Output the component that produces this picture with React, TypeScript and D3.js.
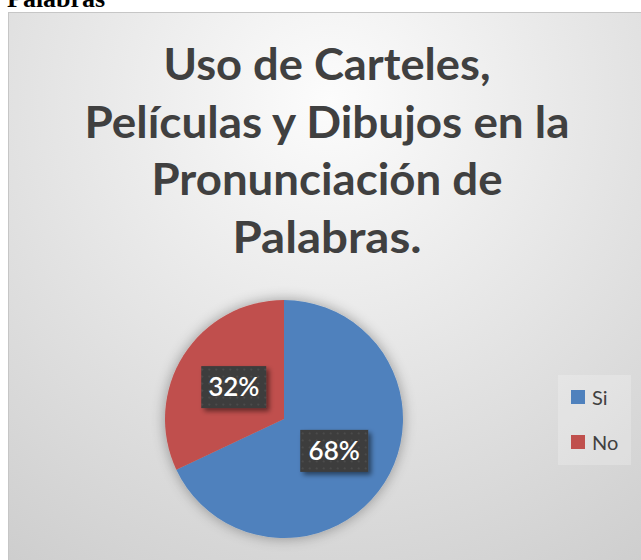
import * as d3 from 'd3';

const categories = ['Si', 'No'];
const values = [68, 32];
const colors = ['#4f81bd', '#c0504d'];
const titleLines = ['Uso de Carteles,', 'Películas y Dibujos en la', 'Pronunciación de', 'Palabras.'];
const titleWidths = [327, 485, 351, 189];

const W = 641;
const H = 560;

export default function App() {
  const cx = 284;
  const cy = 419;
  const radius = 119;

  const pie = d3
    .pie<number>()
    .sort(null)
    .value(d => d)(values);
  const arc = d3.arc<d3.PieArcDatum<number>>().innerRadius(0).outerRadius(radius);
  const total = d3.sum(values);
  const fmt = (v: number) => `${Math.round((v / total) * 100)}%`;

  return (
    <svg width={W} height={H} style={{ position: 'absolute', left: 0, top: 0 }}>
      <defs>
        <radialGradient id="bg" gradientUnits="userSpaceOnUse" cx={330} cy={100} r={570}>
          <stop offset="0%" stopColor="#fcfcfc" />
          <stop offset="55%" stopColor="#e2e2e2" />
          <stop offset="100%" stopColor="#cdcdcd" />
        </radialGradient>
        <filter id="pieShadow" x="-30%" y="-30%" width="160%" height="160%">
          <feGaussianBlur in="SourceAlpha" stdDeviation="7" />
          <feComponentTransfer>
            <feFuncA type="linear" slope="0.35" />
          </feComponentTransfer>
          <feMerge>
            <feMergeNode />
            <feMergeNode in="SourceGraphic" />
          </feMerge>
        </filter>
        <filter id="boxShadow" x="-30%" y="-30%" width="160%" height="160%">
          <feGaussianBlur in="SourceAlpha" stdDeviation="2.5" />
          <feOffset dx="3" dy="3" result="o" />
          <feComponentTransfer>
            <feFuncA type="linear" slope="0.5" />
          </feComponentTransfer>
          <feMerge>
            <feMergeNode />
            <feMergeNode in="SourceGraphic" />
          </feMerge>
        </filter>
        <pattern id="dots" width="7" height="7" patternUnits="userSpaceOnUse">
          <rect width="7" height="7" fill="#3c3c3c" />
          <circle cx="3.5" cy="3.5" r="1" fill="#4e4e4e" />
        </pattern>
      </defs>

      {/* page heading cut off at the top */}
      <text x={7} y={7} fontFamily="'Liberation Serif', serif" fontWeight="bold" fontSize={26} fill="#000">
        Palabras
      </text>

      {/* chart area */}
      <rect x={8.5} y={12.5} width={W} height={H} fill="url(#bg)" stroke="#c6c6c6" />

      {titleLines.map((line, i) => (
        <text
          key={line}
          x={327}
          y={80 + i * 57.5}
          textAnchor="middle"
          fontFamily="Lato, 'Open Sans', sans-serif"
          fontWeight="bold"
          fontSize={44}
          fill="#404040"
          textLength={titleWidths[i]}
          lengthAdjust="spacingAndGlyphs"
        >
          {line}
        </text>
      ))}

      <g transform={`translate(${cx},${cy})`} filter="url(#pieShadow)">
        {pie.map((d, i) => (
          <path key={categories[i]} d={arc(d) ?? ''} fill={colors[i]} />
        ))}
      </g>

      <g transform={`translate(${cx},${cy})`}>
        {pie.map((d, i) => {
          const [lx, ly] = arc.centroid(d);
          const bw = i === 0 ? 68 : 65;
          const bh = 42;
          return (
            <g key={categories[i]} transform={`translate(${lx},${ly})`}>
              <rect x={-bw / 2} y={-bh / 2} width={bw} height={bh} fill="url(#dots)" filter="url(#boxShadow)" />
              <text
                y={9}
                textAnchor="middle"
                fontFamily="Lato, 'Open Sans', sans-serif"
                fontWeight={600}
                fontSize={26}
                fill="#fff"
              >
                {fmt(d.value)}
              </text>
            </g>
          );
        })}
      </g>

      {/* legend */}
      <g>
        <rect x={558} y={375} width={73} height={90} fill="#ffffff" opacity={0.22} />
        {categories.map((c, i) => (
          <g key={c} transform={`translate(571,${390 + i * 45})`}>
            <rect width={14} height={14} fill={colors[i]} />
            <text x={21} y={14.5} fontFamily="Lato, 'Open Sans', sans-serif" fontSize={20} fill="#404040">
              {c}
            </text>
          </g>
        ))}
      </g>
    </svg>
  );
}
